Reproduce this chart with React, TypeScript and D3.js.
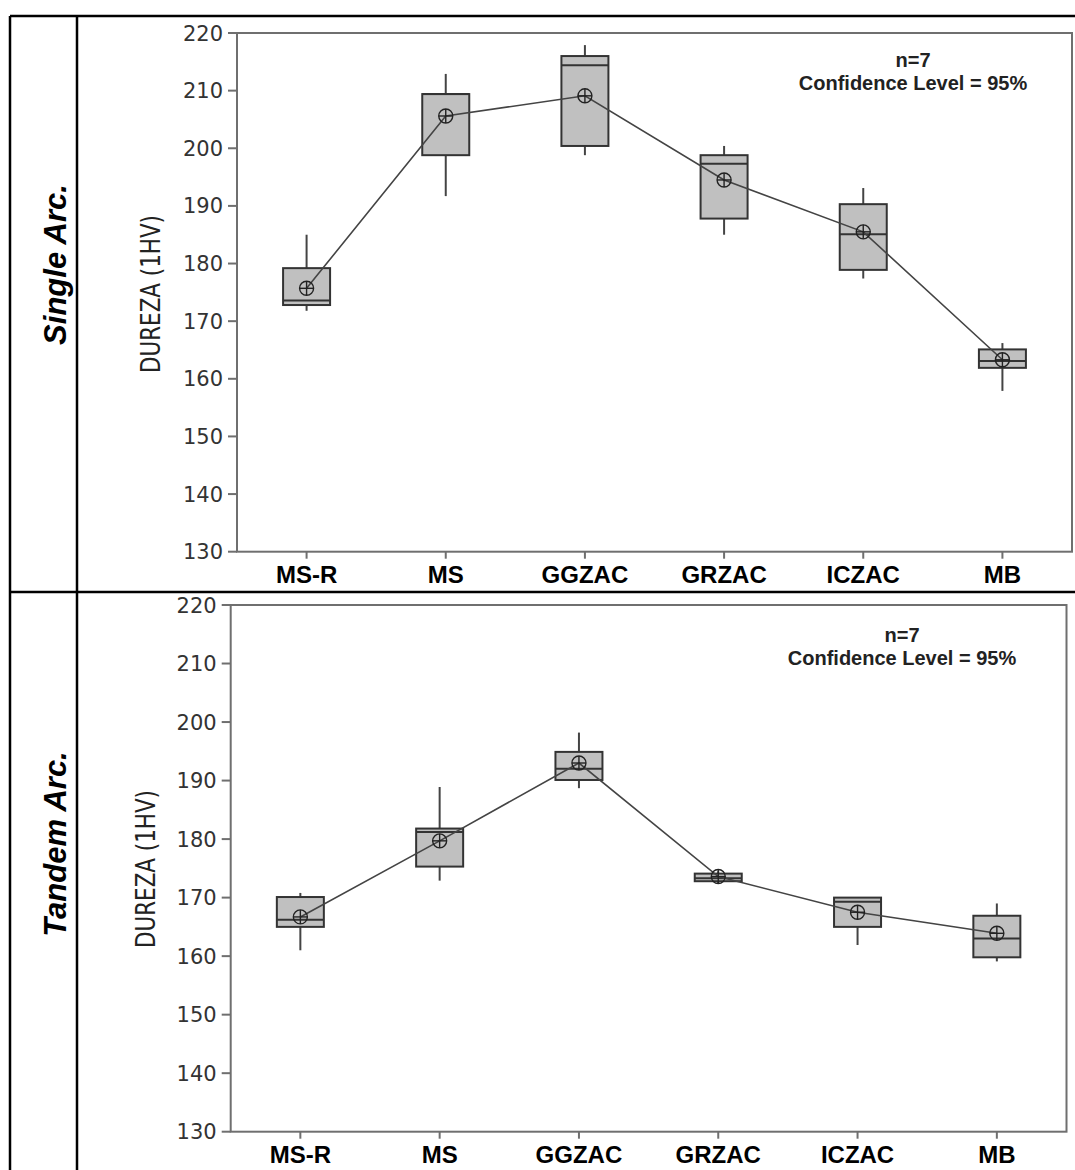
import React from 'react';
import * as d3 from 'd3';

const categories = ['MS-R', 'MS', 'GGZAC', 'GRZAC', 'ICZAC', 'MB'];
const yTicks = [130, 140, 150, 160, 170, 180, 190, 200, 210, 220];

// Single Arc.
const singleMin = [171.8, 191.7, 198.8, 185.0, 177.4, 157.9];
const singleQ1 = [172.8, 198.8, 200.4, 187.8, 178.9, 161.9];
const singleMedian = [173.6, 209.4, 214.4, 197.3, 185.1, 163.1];
const singleQ3 = [179.2, 209.4, 216.0, 198.8, 190.3, 165.1];
const singleMax = [185.0, 212.9, 217.9, 200.4, 193.1, 166.2];
const singleMean = [175.7, 205.6, 209.1, 194.5, 185.5, 163.3];

// Tandem Arc.
const tandemMin = [161.0, 172.9, 188.7, 172.5, 161.9, 159.1];
const tandemQ1 = [165.0, 175.3, 190.1, 172.8, 165.0, 159.8];
const tandemMedian = [166.2, 181.2, 192.0, 173.3, 169.3, 163.0];
const tandemQ3 = [170.1, 181.8, 194.9, 174.1, 170.0, 166.9];
const tandemMax = [170.8, 188.9, 198.2, 174.5, 170.0, 169.0];
const tandemMean = [166.7, 179.7, 193.0, 173.6, 167.5, 163.9];

const rowLabels = ['Single Arc.', 'Tandem Arc.'];
const yLabel = 'DUREZA (1HV)';
const noteLines = ['n=7', 'Confidence Level = 95%'];

type PanelProps = {
  left: number; right: number; top: number; bottom: number;
  mins: number[]; q1: number[]; med: number[]; q3: number[]; maxs: number[]; means: number[];
  yLabelX: number; yLabelY: number; noteX: number; noteY: number; xLabelY: number;
};

const Panel = (p: PanelProps) => {
  const x = d3.scalePoint<string>().domain(categories).range([p.left, p.right]).padding(0.5);
  const y = d3.scaleLinear().domain([130, 220]).range([p.bottom, p.top]);
  const boxW = 47;
  const line = d3.line<number>().x((_, i) => x(categories[i]) as number).y((d) => y(d));
  const frame = '#6f6f6f';
  return (
    <g>
      <rect x={p.left} y={p.top} width={p.right - p.left} height={p.bottom - p.top} fill="none" stroke={frame} strokeWidth={2} />
      {yTicks.map((t) => (
        <g key={t}>
          <line x1={p.left - 9} x2={p.left} y1={y(t)} y2={y(t)} stroke={frame} strokeWidth={2} />
          <text x={p.left - 14} y={y(t)} dy="0.36em" textAnchor="end" fontFamily="DejaVu Sans" fontSize={21} fill="#333">{t}</text>
        </g>
      ))}
      {categories.map((c) => (
        <g key={c}>
          <line x1={x(c)} x2={x(c)} y1={p.bottom} y2={p.bottom + 7} stroke={frame} strokeWidth={2} />
          <text x={x(c)} y={p.xLabelY} textAnchor="middle" fontFamily="Liberation Sans, Arial" fontWeight="bold" fontSize={24} fill="#000">{c}</text>
        </g>
      ))}
      <text transform={`translate(${p.yLabelX},${p.yLabelY}) rotate(-90)`} textAnchor="middle" fontFamily="DejaVu Sans" fontSize={27} fill="#222" textLength={158} lengthAdjust="spacingAndGlyphs">{yLabel}</text>
      {noteLines.map((s, i) => (
        <text key={s} x={p.noteX} y={p.noteY + i * 23} textAnchor="middle" fontFamily="Liberation Sans, Arial" fontWeight="bold" fontSize={20} fill="#222">{s}</text>
      ))}
      {categories.map((c, i) => {
        const cx = x(c) as number;
        return (
          <g key={c}>
            <line x1={cx} x2={cx} y1={y(p.maxs[i])} y2={y(p.q3[i])} stroke="#444" strokeWidth={2} />
            <line x1={cx} x2={cx} y1={y(p.q1[i])} y2={y(p.mins[i])} stroke="#444" strokeWidth={2} />
            <rect x={cx - boxW / 2} y={y(p.q3[i])} width={boxW} height={Math.max(1, y(p.q1[i]) - y(p.q3[i]))} fill="#c0c0c0" stroke="#333" strokeWidth={2} />
            <line x1={cx - boxW / 2} x2={cx + boxW / 2} y1={y(p.med[i])} y2={y(p.med[i])} stroke="#333" strokeWidth={2} />
          </g>
        );
      })}
      <path d={line(p.means) as string} fill="none" stroke="#444" strokeWidth={1.6} />
      {categories.map((c, i) => {
        const cx = x(c) as number;
        const cy = y(p.means[i]);
        return (
          <g key={c} stroke="#222" strokeWidth={1.4} fill="none">
            <circle cx={cx} cy={cy} r={7} />
            <line x1={cx - 7} x2={cx + 7} y1={cy} y2={cy} />
            <line x1={cx} x2={cx} y1={cy - 7} y2={cy + 7} />
          </g>
        );
      })}
    </g>
  );
};

export default function App() {
  return (
    <div style={{ position: 'absolute', left: 0, top: 0 }}>
      <svg width={1075} height={1170} style={{ display: 'block', background: '#fff' }}>
        <rect x={0} y={0} width={1075} height={1170} fill="#fff" />
        <line x1={10} x2={1075} y1={16} y2={16} stroke="#000" strokeWidth={2.5} />
        <line x1={10} x2={1075} y1={592} y2={592} stroke="#000" strokeWidth={2.5} />
        <line x1={10} x2={10} y1={16} y2={1170} stroke="#000" strokeWidth={2.5} />
        <line x1={77} x2={77} y1={16} y2={1170} stroke="#000" strokeWidth={2.5} />
        <text transform="translate(66,264.5) rotate(-90)" textAnchor="middle" fontFamily="Liberation Sans, Arial" fontWeight="bold" fontStyle="italic" fontSize={31} fill="#000">{rowLabels[0]}</text>
        <text transform="translate(66,844) rotate(-90)" textAnchor="middle" fontFamily="Liberation Sans, Arial" fontWeight="bold" fontStyle="italic" fontSize={31} fill="#000">{rowLabels[1]}</text>
        <Panel left={237} right={1072} top={33} bottom={551.7}
          mins={singleMin} q1={singleQ1} med={singleMedian} q3={singleQ3} maxs={singleMax} means={singleMean}
          yLabelX={160} yLabelY={294} noteX={913} noteY={67} xLabelY={583} />
        <Panel left={230.7} right={1066.5} top={605} bottom={1131.7}
          mins={tandemMin} q1={tandemQ1} med={tandemMedian} q3={tandemQ3} maxs={tandemMax} means={tandemMean}
          yLabelX={155} yLabelY={869} noteX={902} noteY={642} xLabelY={1163} />
      </svg>
    </div>
  );
}
